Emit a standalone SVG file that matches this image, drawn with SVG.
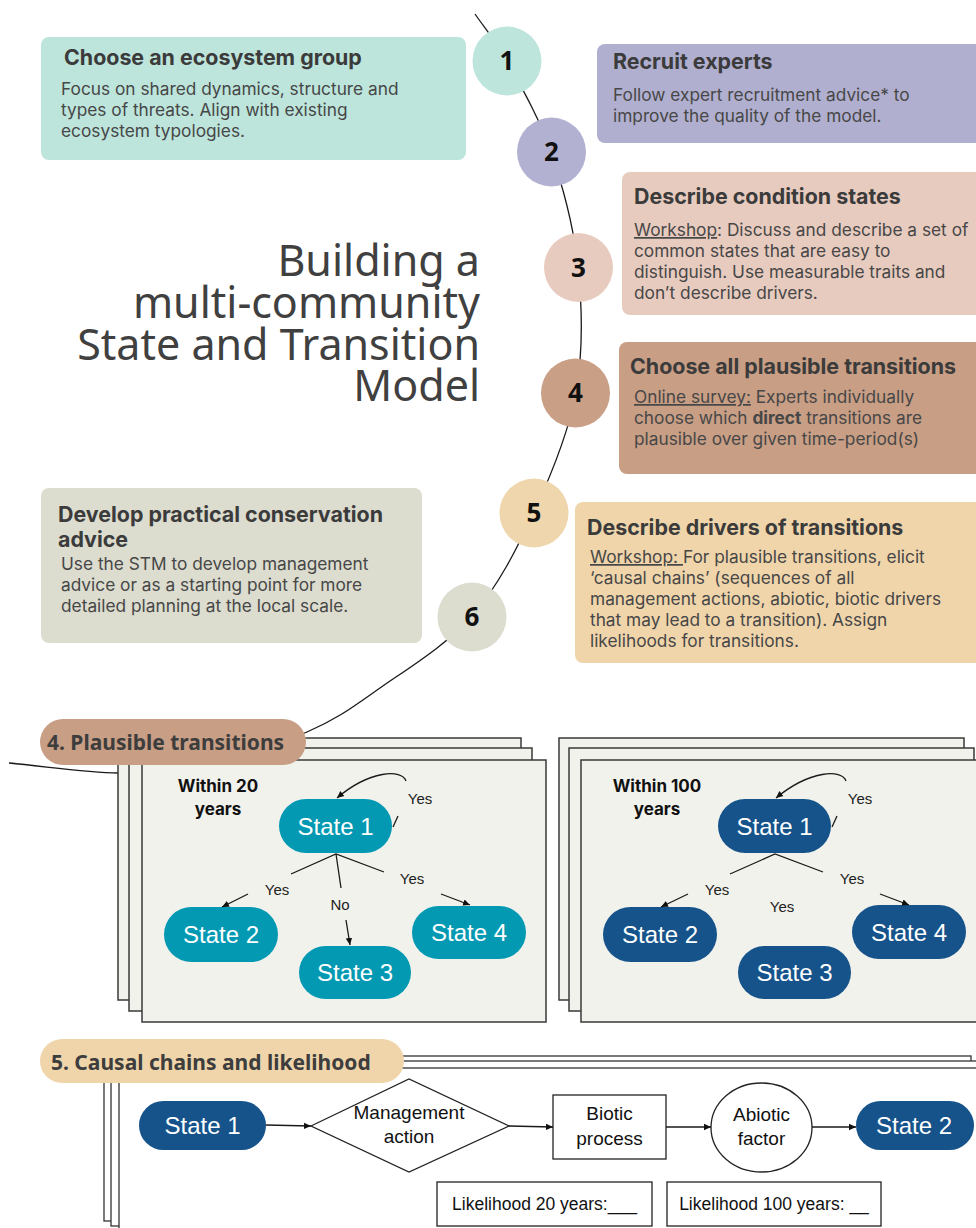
<svg xmlns="http://www.w3.org/2000/svg" width="976" height="1228" viewBox="0 0 976 1228">
<defs>
<style>
.h{font-family:Inter,"Noto Sans","Liberation Sans",sans-serif;font-weight:700;font-size:21.4px;fill:#3b3b3b}
.b{font-family:Inter,"Noto Sans","Liberation Sans",sans-serif;font-weight:400;font-size:17.3px;fill:#474747}
.u{text-decoration:underline}
.num{font-family:"Open Sans","Noto Sans",sans-serif;font-weight:700;font-size:26px;fill:#111;text-anchor:middle}
.title{font-family:"Noto Sans","Liberation Sans",sans-serif;font-size:43px;fill:#404040;text-anchor:end}
.tag{font-family:"Noto Sans","Liberation Sans",sans-serif;font-weight:700;font-size:21px;fill:#3d3d3d}
.page{fill:#f2f2ed;stroke:#3a3a3a;stroke-width:1.5}
.sheet{fill:#fff;stroke:#333;stroke-width:1.3}
.st{font-family:"Liberation Sans",Arial,sans-serif;font-size:24px;fill:#fff;text-anchor:middle}
.lbl{font-family:"Liberation Sans",Arial,sans-serif;font-size:15px;fill:#222;text-anchor:middle}
.yr{font-family:Inter,"Liberation Sans",sans-serif;font-weight:700;font-size:17px;fill:#111;text-anchor:middle}
.ch{font-family:"Liberation Sans",Arial,sans-serif;font-size:19px;fill:#111;text-anchor:middle}
.lk{font-family:"Liberation Sans",Arial,sans-serif;font-size:17.5px;fill:#111;text-anchor:middle}
.ln{fill:none;stroke:#1a1a1a;stroke-width:1.3}
.box{fill:#fff;stroke:#222;stroke-width:1.3}
.teal{fill:#0399b3}
.navy{fill:#15538a}
</style>
<marker id="ah" markerWidth="8" markerHeight="8" refX="7" refY="4" orient="auto" markerUnits="userSpaceOnUse">
<path d="M0,0.8 L7,4 L0,7.2 Z" fill="#111"/>
</marker>
</defs>

<rect width="976" height="1228" fill="#fff"/>

<!-- connectors: the step spiral -->
<g id="connectors">
<path class="ln" stroke-width="1.5" d="M475,14 C485.7,29.7 494.3,38 507,61 C519.7,84 539.2,117.7 551,152 C562.8,186.3 573.8,227 578,267 C582.2,307 583.3,351.2 576,392 C568.7,432.8 551.3,474.7 534,512 C516.7,549.3 497.7,586.7 472,616 C446.3,645.3 407.5,668.7 380,688 C352.5,707.3 337,719.2 307,732 C277,744.8 231.5,758.2 200,765 C168.5,771.8 149.8,773.3 118,773 C86.2,772.7 45.3,766.3 9,763"/>
</g>

<!-- step boxes -->
<g id="step1-box">
<rect x="41" y="37" width="425" height="123" rx="8" fill="#bde5dc"/>
<text class="h" x="64" y="65">Choose an ecosystem group</text>
<text class="b" x="61" y="95">Focus on shared dynamics, structure and<tspan x="61" dy="21">types of threats. Align with existing</tspan><tspan x="61" dy="21">ecosystem typologies.</tspan></text>
</g>
<g id="step2-box">
<rect x="597" y="44" width="400" height="99" rx="8" fill="#b1afcf"/>
<text class="h" x="613" y="69">Recruit experts</text>
<text class="b" x="613" y="101">Follow expert recruitment advice* to<tspan x="613" dy="21">improve the quality of the model.</tspan></text>
</g>
<g id="step3-box">
<rect x="622" y="172" width="380" height="143" rx="8" fill="#e8cbbf"/>
<text class="h" x="634" y="204">Describe condition states</text>
<text class="b" x="634" y="236"><tspan class="u">Workshop</tspan>: Discuss and describe a set of<tspan x="634" dy="21">common states that are easy to</tspan><tspan x="634" dy="21">distinguish. Use measurable traits and</tspan><tspan x="634" dy="21">don’t describe drivers.</tspan></text>
</g>
<g id="step4-box">
<rect x="619" y="342" width="380" height="132" rx="8" fill="#c89e85"/>
<text class="h" x="630" y="374">Choose all plausible transitions</text>
<text class="b" x="634" y="403"><tspan class="u">Online survey:</tspan> Experts individually<tspan x="634" dy="21">choose which </tspan><tspan font-weight="700">direct</tspan><tspan> transitions are</tspan><tspan x="634" dy="21">plausible over given time-period(s)</tspan></text>
</g>
<g id="step5-box">
<rect x="575" y="502" width="420" height="161" rx="8" fill="#f0d5ab"/>
<text class="h" x="587" y="535">Describe drivers of transitions</text>
<text class="b" x="590" y="563"><tspan class="u">Workshop: </tspan>For plausible transitions, elicit<tspan x="590" dy="21">‘causal chains’ (sequences of all</tspan><tspan x="590" dy="21">management actions, abiotic, biotic drivers</tspan><tspan x="590" dy="21">that may lead to a transition). Assign</tspan><tspan x="590" dy="21">likelihoods for transitions.</tspan></text>
</g>
<g id="step6-box">
<rect x="41" y="488" width="381" height="155" rx="8" fill="#dcdccf"/>
<text class="h" x="58" y="522" font-size="20.6">Develop practical conservation<tspan x="58" dy="25">advice</tspan></text>
<text class="b" x="61" y="570">Use the STM to develop management<tspan x="61" dy="21">advice or as a starting point for more</tspan><tspan x="61" dy="21">detailed planning at the local scale.</tspan></text>
</g>

<!-- numbered step markers on the spiral -->
<g id="step1"><circle cx="507" cy="61" r="34.5" fill="#bde5dc"/><text class="num" x="507" y="70">1</text></g>
<g id="step2"><circle cx="551.5" cy="152" r="34.5" fill="#b3b1d1"/><text class="num" x="551.5" y="161">2</text></g>
<g id="step3"><circle cx="578.5" cy="267.5" r="34.5" fill="#e8cbbf"/><text class="num" x="578.5" y="276.5">3</text></g>
<g id="step4"><circle cx="575.5" cy="393" r="34.5" fill="#c99f85"/><text class="num" x="575.5" y="402">4</text></g>
<g id="step5"><circle cx="534" cy="513" r="34.5" fill="#f0d6ad"/><text class="num" x="534" y="522">5</text></g>
<g id="step6"><circle cx="472" cy="617" r="34.5" fill="#dcdccf"/><text class="num" x="472" y="626">6</text></g>

<!-- heading -->
<g id="heading">
<text class="title" x="480" y="276">Building a<tspan x="480" dy="42">multi-community</tspan><tspan x="480" dy="42">State and Transition</tspan><tspan x="480" dy="41">Model</tspan></text>
</g>

<!-- 4. plausible transitions: 20-year sheet stack -->
<g id="sheets-20y">
<rect class="page" x="118" y="738" width="403" height="262" stroke="#555"/>
<rect class="page" x="129" y="748" width="403" height="263" stroke="#444"/>
<rect class="page" x="142" y="760" width="404" height="262"/>
</g>
<!-- 100-year sheet stack -->
<g id="sheets-100y">
<rect class="page" x="559" y="738" width="405" height="262" stroke="#555"/>
<rect class="page" x="569" y="748" width="405" height="263" stroke="#444"/>
<rect class="page" x="581" y="760" width="420" height="262"/>
</g>

<g id="tag-plausible">
<rect x="40" y="719" width="266" height="46" rx="23" fill="#c89e85"/>
<text class="tag" x="47" y="750">4. Plausible transitions</text>
</g>

<!-- 20-year diagram -->
<g id="within-20">
<text class="yr" x="218" y="792">Within 20<tspan x="218" dy="23">years</tspan></text>
</g>
<g id="s20-1"><rect class="teal" x="279" y="799" width="113" height="54" rx="27"/><text class="st" x="335.5" y="834.5">State 1</text></g>
<g id="s20-2"><rect class="teal" x="164" y="907" width="114" height="55" rx="27.5"/><text class="st" x="221" y="942.5">State 2</text></g>
<g id="s20-3"><rect class="teal" x="299" y="946" width="112" height="53" rx="26.5"/><text class="st" x="355" y="981">State 3</text></g>
<g id="s20-4"><rect class="teal" x="412" y="906" width="114" height="53" rx="26.5"/><text class="st" x="469" y="941">State 4</text></g>
<g id="links-20">
<path class="ln" marker-end="url(#ah)" d="M406,781 C402,769 370,770 337,798"/>
<path class="ln" d="M393,827 L398,816"/>
<path class="ln" d="M291,874 L336,854 L384,872 M336,854 L341,888"/>
<path class="ln" marker-end="url(#ah)" d="M248,894 L222,907"/>
<path class="ln" marker-end="url(#ah)" d="M346,920 L350,945"/>
<path class="ln" marker-end="url(#ah)" d="M441,894 L470,905"/>
<text class="lbl" x="420" y="804">Yes</text>
<text class="lbl" x="277" y="895">Yes</text>
<text class="lbl" x="340" y="910">No</text>
<text class="lbl" x="412" y="884">Yes</text>
</g>

<!-- 100-year diagram -->
<g id="within-100">
<text class="yr" x="657" y="792">Within 100<tspan x="657" dy="23">years</tspan></text>
</g>
<g id="s100-1"><rect class="navy" x="718" y="799" width="113" height="54" rx="27"/><text class="st" x="774.5" y="834.5">State 1</text></g>
<g id="s100-2"><rect class="navy" x="603" y="907" width="114" height="55" rx="27.5"/><text class="st" x="660" y="942.5">State 2</text></g>
<g id="s100-3"><rect class="navy" x="738" y="946" width="113" height="53" rx="26.5"/><text class="st" x="794.5" y="981">State 3</text></g>
<g id="s100-4"><rect class="navy" x="852" y="905" width="114" height="54" rx="27"/><text class="st" x="909" y="940.5">State 4</text></g>
<g id="links-100">
<path class="ln" marker-end="url(#ah)" d="M846,781 C842,769 810,770 776,798"/>
<path class="ln" d="M832,827 L837,816"/>
<path class="ln" d="M730,874 L775,854 L823,872"/>
<path class="ln" marker-end="url(#ah)" d="M688,894 L661,907"/>
<path class="ln" marker-end="url(#ah)" d="M880,894 L909,905"/>
<text class="lbl" x="860" y="804">Yes</text>
<text class="lbl" x="717" y="895">Yes</text>
<text class="lbl" x="782" y="912">Yes</text>
<text class="lbl" x="852" y="884">Yes</text>
</g>

<!-- 5. causal chains sheet stack -->
<g id="sheets-chain">
<rect class="sheet" x="104" y="1056" width="867" height="165" stroke="#555"/>
<rect class="sheet" x="111" y="1061" width="880" height="165" stroke="#444"/>
<rect class="sheet" x="119" y="1068" width="880" height="180"/>
</g>
<g id="tag-causal">
<rect x="40" y="1039" width="364" height="44" rx="22" fill="#f0d5ab"/>
<text class="tag" x="51" y="1070">5. Causal chains and likelihood</text>
</g>

<g id="chain-state1"><rect class="navy" x="139" y="1101" width="127" height="49" rx="24.5"/><text class="st" x="202.5" y="1134">State 1</text></g>
<g id="chain-management"><path class="box" d="M311,1126 L409,1079 L509,1126 L409,1172 Z"/><text class="ch" x="409" y="1119">Management<tspan x="409" dy="24">action</tspan></text></g>
<g id="chain-biotic"><rect class="box" x="553" y="1095" width="113" height="64"/><text class="ch" x="609.5" y="1120">Biotic<tspan x="609.5" dy="25">process</tspan></text></g>
<g id="chain-abiotic"><ellipse class="box" cx="761.5" cy="1127.5" rx="50.5" ry="44.5"/><text class="ch" x="761.5" y="1121">Abiotic<tspan x="761.5" dy="24">factor</tspan></text></g>
<g id="chain-state2"><rect class="navy" x="856" y="1101" width="118" height="49" rx="24.5"/><text class="st" x="914" y="1134">State 2</text></g>
<g id="chain-links">
<path class="ln" marker-end="url(#ah)" d="M266,1125 L311,1126"/>
<path class="ln" marker-end="url(#ah)" d="M509,1126 L553,1127"/>
<path class="ln" marker-end="url(#ah)" d="M666,1127 L711,1127"/>
<path class="ln" marker-end="url(#ah)" d="M812,1127 L856,1127"/>
</g>
<g id="likelihood-20"><rect class="box" x="437" y="1182" width="215" height="44"/><text class="lk" x="544.5" y="1210">Likelihood 20 years:___</text></g>
<g id="likelihood-100"><rect class="box" x="667" y="1182" width="214" height="44"/><text class="lk" x="774" y="1210">Likelihood 100 years: __</text></g>
</svg>
